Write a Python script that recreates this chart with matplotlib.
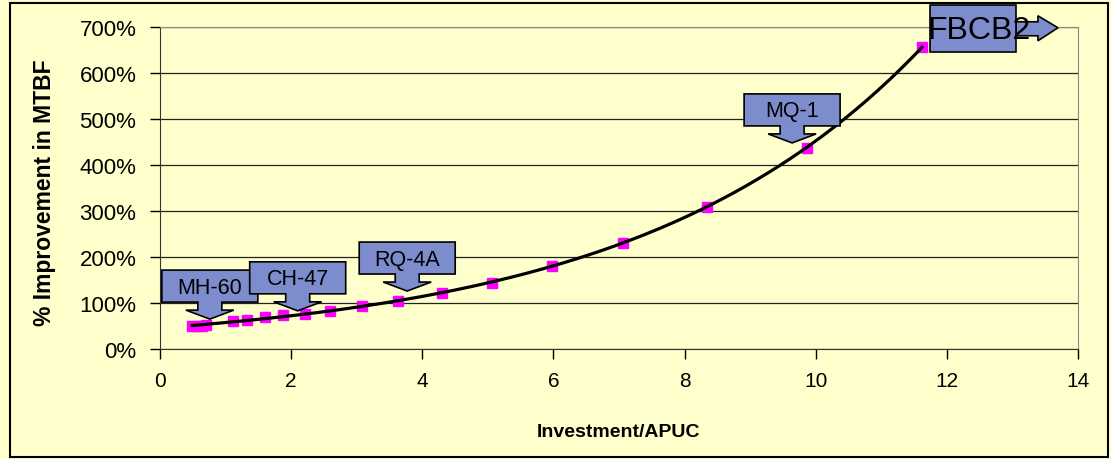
import matplotlib
matplotlib.use("Agg")
import matplotlib.pyplot as plt
import matplotlib.patches as patches
from matplotlib.transforms import IdentityTransform
import numpy as np

plt.rcParams['font.family'] = ['Liberation Sans', 'DejaVu Sans']

# data
invest = [0.49, 0.57, 0.64, 0.70, 1.11, 1.33, 1.60, 1.88, 2.21, 2.59,
          3.08, 3.63, 4.30, 5.06, 5.98, 7.06, 8.34, 9.87, 11.62]
mtbf = [50, 50, 51, 52, 61, 63, 70, 74, 76, 83,
        93, 104, 122, 143, 180, 230, 309, 437, 657]

x_ticks = [0, 2, 4, 6, 8, 10, 12, 14]
y_ticks = [0, 100, 200, 300, 400, 500, 600, 700]

# callouts with downward arrows: label, arrow tip (x, %)
callouts = [("MH-60", 0.76, 65), ("CH-47", 2.10, 83),
            ("RQ-4A", 3.77, 126), ("MQ-1", 9.64, 448)]
last_label = "FBCB2"

bg = "#FFFFCC"
fill = "#7D8CCD"

fig = plt.figure(figsize=(11.11, 4.6), dpi=100, facecolor=bg)
ax = fig.add_axes([160/1111, 110/460, 918/1111, 322/460])
ax.set_facecolor(bg)

ax.set_xlim(0, 14)
ax.set_ylim(0, 700)
ax.set_xticks(x_ticks)
ax.set_yticks(y_ticks)
ax.set_yticklabels([f"{v}%" for v in y_ticks])
ax.tick_params(axis='y', direction='out', length=7, width=1, labelsize=16, pad=10)
ax.tick_params(axis='x', direction='out', length=7, width=1, labelsize=15, pad=9)
ax.yaxis.grid(True, color='#222222', lw=0.9)
ax.set_axisbelow(True)
for s in ['top', 'right']:
    ax.spines[s].set_color('#888888')
for s in ['left', 'bottom']:
    ax.spines[s].set_color('#333333')

ax.set_xlabel("Investment/APUC", fontsize=14, fontweight='bold')
ax.xaxis.set_label_coords(0.5, -0.23)
ax.set_ylabel("% Improvement in MTBF", fontsize=16.5, fontweight='bold')
ax.yaxis.set_label_coords(-0.113, 0.49)

ax.plot(invest, mtbf, 's', color='#FF00FF', ms=7, zorder=3)

# exponential trend through the points
xs = np.array(invest)
b, a = np.polyfit(xs, np.log(mtbf), 1)
xx = np.linspace(xs.min(), xs.max(), 200)
ax.plot(xx, np.exp(a + b * xx), color='black', lw=2.3, zorder=4)

ident = IdentityTransform()

for label, cx, cy in callouts:
    tx, ty = ax.transData.transform((cx, cy))
    pts = [(-48, 17), (-12, 17), (-12, 9), (-24, 9), (0, 0), (24, 9), (12, 9),
           (12, 17), (48, 17), (48, 49), (-48, 49)]
    poly = patches.Polygon([(tx + px, ty + py) for px, py in pts], closed=True,
                           facecolor=fill, edgecolor='black', lw=1.2,
                           transform=ident, zorder=5, clip_on=False)
    ax.add_patch(poly)
    ax.text(tx, ty + 32, label, transform=ident, ha='center', va='center',
            fontsize=15.5, zorder=6)

# last point: box with arrow to the right
ex, ey = ax.transData.transform((invest[-1], mtbf[-1]))
box = patches.Rectangle((ex + 8, ey - 5), 86, 47, facecolor=fill,
                        edgecolor='black', lw=1.2, transform=ident,
                        zorder=5, clip_on=False)
arrow = patches.Polygon([(ex + 94, ey + 11), (ex + 116, ey + 11), (ex + 116, ey + 6),
                         (ex + 136, ey + 19), (ex + 116, ey + 31), (ex + 116, ey + 25),
                         (ex + 94, ey + 25)], closed=True, facecolor=fill,
                        edgecolor='black', lw=1.2, transform=ident,
                        zorder=5, clip_on=False)
ax.add_patch(arrow)
ax.add_patch(box)
ax.text(ex + 57, ey + 17, last_label, transform=ident, ha='center', va='center',
        fontsize=23, zorder=6)

# outer chart border
fig.patches.append(patches.Rectangle((10/1111, 2/460), 1098/1111, 454/460,
                                     transform=fig.transFigure, fill=False,
                                     edgecolor='black', lw=1.5))

fig.savefig("out.png", dpi=100, facecolor=bg)
